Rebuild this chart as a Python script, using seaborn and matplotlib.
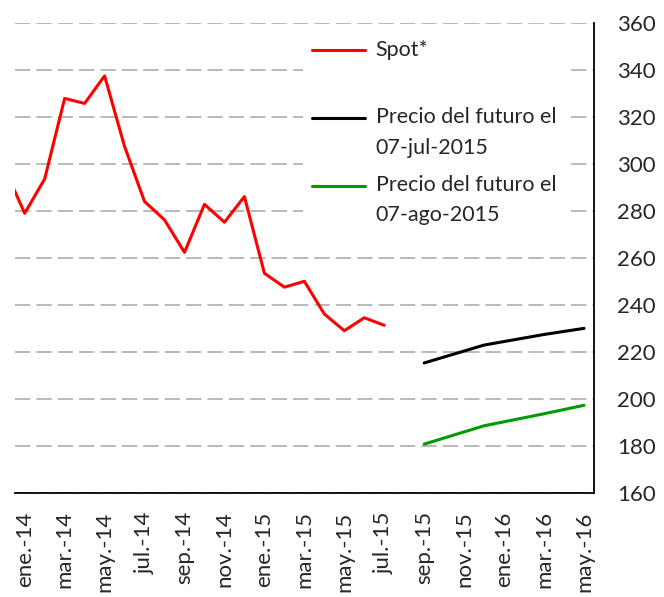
import numpy as np
import pandas as pd
import matplotlib
matplotlib.use("Agg")
import matplotlib.pyplot as plt
import seaborn as sns

# etiquetas del eje x, una cada dos meses (mes 0 = ene-14)
etiquetas = ["ene.-14", "mar.-14", "may.-14", "jul.-14", "sep.-14", "nov.-14",
             "ene.-15", "mar.-15", "may.-15", "jul.-15", "sep.-15", "nov.-15",
             "ene.-16", "mar.-16", "may.-16"]
pos_etiquetas = list(range(0, 29, 2))

# precio spot mensual, dic-13 a jul-15
mes_spot = list(range(-1, 19))
spot = [298.0, 279.0, 293.6, 327.8, 325.7, 337.4, 307.4, 284.0, 276.2, 262.4,
        282.8, 275.2, 286.1, 253.5, 247.6, 250.1, 236.2, 229.1, 234.6, 231.4]

# futuros: sep-15, dic-15, mar-16, may-16
mes_fut = [20, 23, 26, 28]
fut_jul = [215.4, 223.0, 227.5, 230.1]
fut_ago = [180.9, 188.7, 193.8, 197.4]

series = ["Spot*", "Precio del futuro el\n07-jul-2015", "Precio del futuro el\n07-ago-2015"]
colores = ["#ff0000", "#000000", "#009900"]

df = pd.concat([
    pd.DataFrame({"mes": mes_spot, "valor": spot, "serie": series[0]}),
    pd.DataFrame({"mes": mes_fut, "valor": fut_jul, "serie": series[1]}),
    pd.DataFrame({"mes": mes_fut, "valor": fut_ago, "serie": series[2]}),
])

sns.set_style("white")
plt.rcParams["font.family"] = ["Lato", "DejaVu Sans"]
fs = 15.5

fig = plt.figure(figsize=(6.64, 5.97), dpi=100)
ax = fig.add_axes([14.7 / 664, 1 - 493.3 / 597, (594 - 14.7) / 664, (493.3 - 22.7) / 597])

sns.lineplot(data=df, x="mes", y="valor", hue="serie", hue_order=series,
             palette=colores, linewidth=2.2, ax=ax, legend=False)

ax.set_xlim(-0.5, 28.5)
ax.set_ylim(160, 360)
ax.set_yticks(np.arange(160, 361, 20))
ax.yaxis.tick_right()
ax.set_xticks(pos_etiquetas, etiquetas, rotation=90, fontsize=16)
ax.set_xticks(np.arange(-0.5, 28, 2), minor=True)
ax.tick_params(axis="x", which="major", length=0, pad=13)
ax.tick_params(axis="x", which="minor", length=6.5, width=1.3, direction="out", color="black")
ax.tick_params(axis="y", length=6.5, width=1.3, pad=10, labelsize=16, color="black")
ax.grid(axis="y", color="#a6a6a6", linewidth=1.1, linestyle=(0, (10, 4)))
ax.set_xlabel("")
ax.set_ylabel("")

sns.despine(ax=ax, left=True, right=False, top=True)
for s in ["right", "bottom"]:
    ax.spines[s].set_color("black")
    ax.spines[s].set_linewidth(1.3)

# leyenda: la linea va a la altura de la primera linea del texto
etiq_leyenda = ["Spot*\n", series[1], series[2]]
leg = ax.legend(ax.get_lines()[:3], etiq_leyenda, loc="upper left",
                bbox_to_anchor=(0.498, 0.982), frameon=True, fancybox=False,
                framealpha=1, facecolor="white", edgecolor="none", fontsize=fs,
                handlelength=2.46, handletextpad=0.51, labelspacing=0.8,
                borderpad=0.4, borderaxespad=0)
for t in leg.get_texts():
    t.set_linespacing(1.65)
for h in leg.legend_handles:
    h.set_linewidth(2.2)
    h.set_ydata(np.asarray(h.get_ydata()) + 10.8)

fig.savefig("out.png", dpi=100)
